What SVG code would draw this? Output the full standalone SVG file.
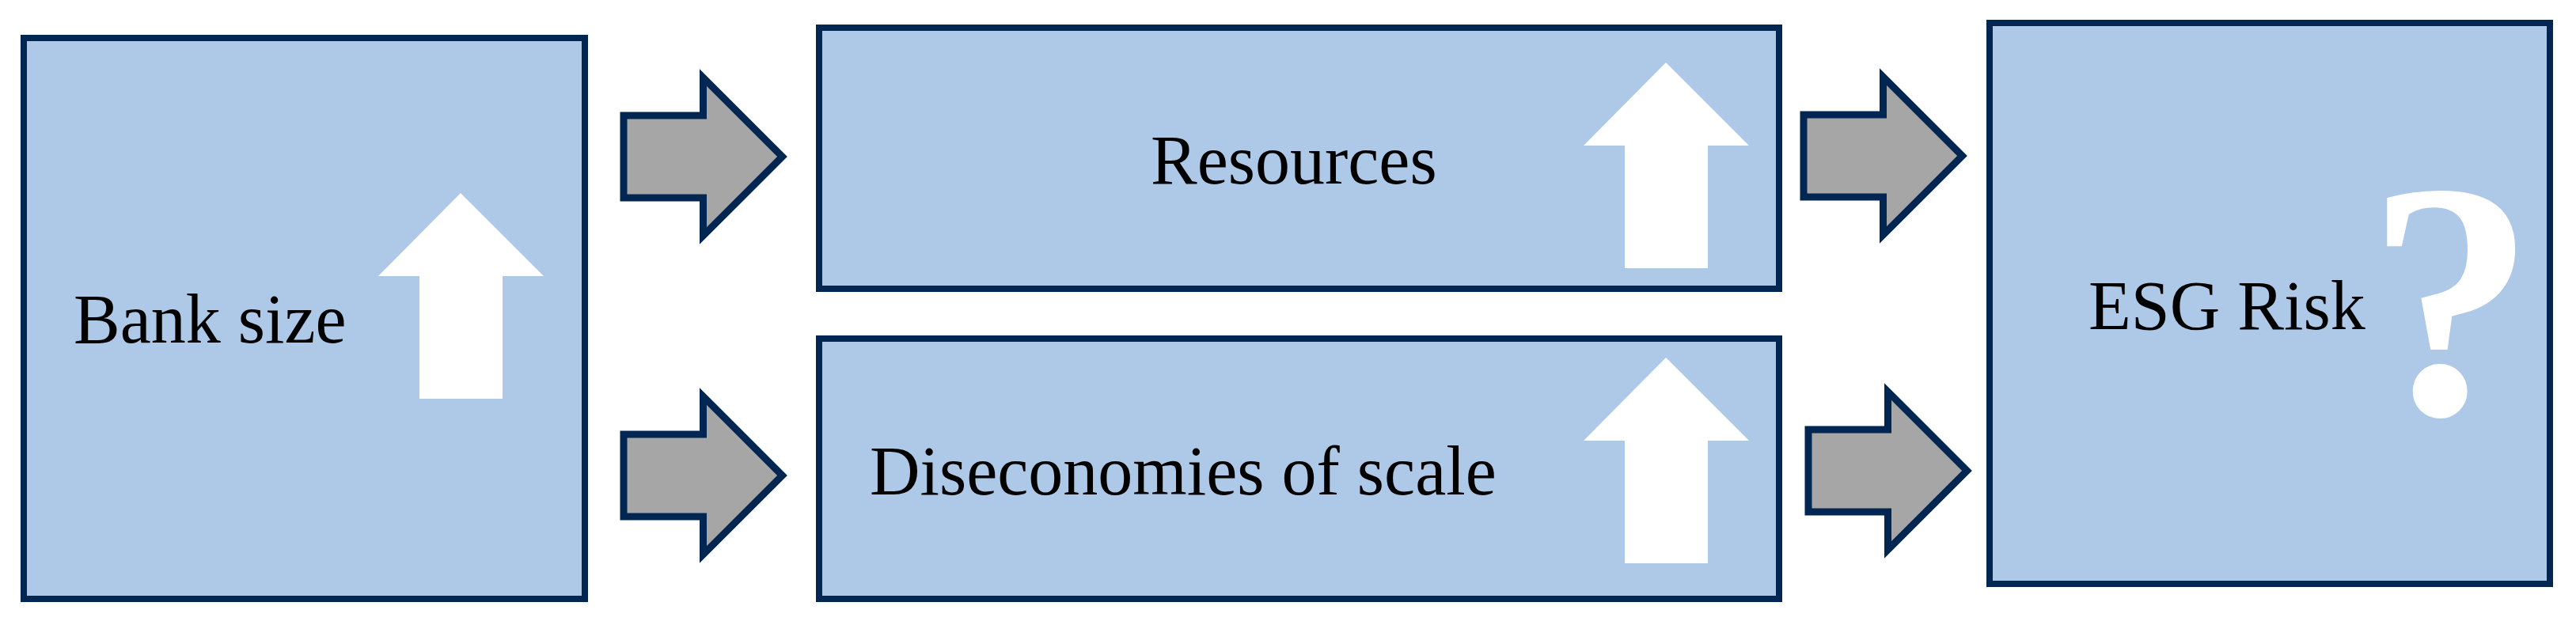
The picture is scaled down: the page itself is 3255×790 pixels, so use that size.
<svg xmlns="http://www.w3.org/2000/svg" width="3255" height="790" viewBox="0 0 3255 790">
  <style>
    .box { fill: #aec8e8; stroke: #002651; stroke-width: 8; }
    .lbl { font-family: "Liberation Serif", "Times New Roman", serif; font-size: 88px; fill: #000000; }
    .up { fill: #ffffff; }
    .flow { fill: #a6a6a6; stroke: #002651; stroke-width: 9; stroke-linejoin: miter; stroke-miterlimit: 10; }
  </style>
  <defs>
    <path id="fat-arrow" d="M0,-52 H100.5 V-100 L200.5,0 L100.5,100 V52 H0 Z"/>
  </defs>
  <rect width="3255" height="790" fill="#ffffff"/>

  <g id="bank-size">
    <rect class="box" x="30" y="48" width="709" height="709"/>
    <text class="lbl" x="93" y="433">Bank size</text>
    <polygon class="up" points="582,244 687,349 635,349 635,504 530,504 530,349 478,349"/>
  </g>

  <g id="resources">
    <rect class="box" x="1035" y="35" width="1213" height="330"/>
    <text class="lbl" x="1454" y="232">Resources</text>
    <polygon class="up" points="2105,79 2210,184 2158,184 2158,339 2053,339 2053,184 2001,184"/>
  </g>

  <g id="diseconomies">
    <rect class="box" x="1035" y="428" width="1213" height="329"/>
    <text class="lbl" x="1099" y="625">Diseconomies of scale</text>
    <polygon class="up" points="2105,452 2210,557 2158,557 2158,712 2053,712 2053,557 2001,557"/>
  </g>

  <g id="esg-risk">
    <rect class="box" x="2514" y="29" width="708" height="709"/>
    <text class="lbl" x="2639" y="416">ESG Risk</text>
    <text x="3097" y="523" text-anchor="middle" font-family="Liberation Serif, Times New Roman, serif" font-weight="bold" font-size="426" fill="#ffffff">?</text>
  </g>

  <g id="connectors">
    <use href="#fat-arrow" class="flow" transform="translate(788,198)"/>
    <use href="#fat-arrow" class="flow" transform="translate(788,601)"/>
    <use href="#fat-arrow" class="flow" transform="translate(2279,197)"/>
    <use href="#fat-arrow" class="flow" transform="translate(2285,595)"/>
  </g>
</svg>
